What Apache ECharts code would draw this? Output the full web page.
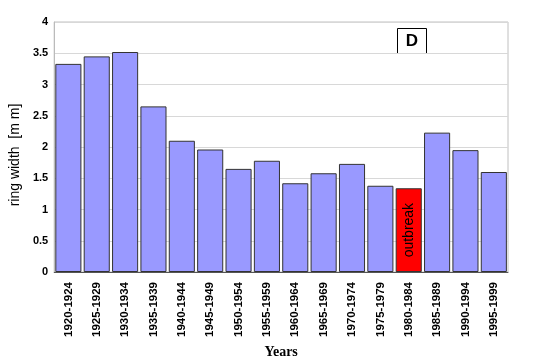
<!DOCTYPE html>
<html><head><meta charset="utf-8">
<script src="https://cdn.jsdelivr.net/npm/echarts@6/dist/echarts.min.js"></script>
<style>html,body{margin:0;padding:0;background:#fff}#c{width:540px;height:364px}</style>
</head><body><div id="c"></div>
<script>
const categories = ["1920-1924","1925-1929","1930-1934","1935-1939","1940-1944","1945-1949","1950-1954","1955-1959","1960-1964","1965-1969","1970-1974","1975-1979","1980-1984","1985-1989","1990-1994","1995-1999"];
const ringWidth = [3.33,3.45,3.52,2.65,2.10,1.96,1.65,1.78,1.42,1.58,1.73,1.38,1.34,2.23,1.95,1.60];
const outbreakCategory = "1980-1984";
const yTicks = [0,0.5,1,1.5,2,2.5,3,3.5,4];

const chart = echarts.init(document.getElementById('c'));
const data = ringWidth.map((v,i)=>{
  const isOut = categories[i]===outbreakCategory;
  return {
    value: v,
    itemStyle: {color: isOut ? '#ff0000' : '#9999ff'},
    label: isOut ? {show:true, position:'inside', rotate:90, formatter:'outbreak', color:'#000', fontFamily:'Liberation Sans, Arial', fontSize:14} : {show:false}
  };
});
chart.setOption({
  animation:false,
  grid:{left:54, top:22, right:32, bottom:92, show:true, borderColor:'#c0c0c0', borderWidth:1},
  xAxis:{
    type:'category', data:categories,
    name:'Years', nameLocation:'middle', nameGap:72,
    nameTextStyle:{fontFamily:'Liberation Serif, Times New Roman', fontWeight:'bold', fontSize:14, color:'#000'},
    axisTick:{show:false},
    axisLine:{lineStyle:{color:'#555', width:1}},
    axisLabel:{rotate:90, interval:0, margin:10, fontFamily:'Liberation Sans, Arial', fontWeight:'bold', fontSize:11.5, color:'#000'}
  },
  yAxis:{
    type:'value', min:0, max:4, interval:0.5,
    name:'ring width  [m m]', nameLocation:'middle', nameRotate:90, nameGap:24,
    nameTextStyle:{fontFamily:'Liberation Sans, Arial', fontSize:14, color:'#000', padding:[0,16,0,0]},
    axisLine:{show:true, lineStyle:{color:'#bbb'}},
    axisTick:{show:false},
    splitLine:{lineStyle:{color:'#d8d8d8'}},
    axisLabel:{margin:6, fontFamily:'Liberation Sans, Arial', fontWeight:'bold', fontSize:11, color:'#000',
      formatter:v=>String(v)}
  },
  series:[{
    type:'bar', data:data, barCategoryGap:'8%',
    itemStyle:{borderColor:'#333', borderWidth:1}
  }],
  graphic:[{
    type:'group', left:397, top:28,
    children:[
      {type:'rect', shape:{x:0,y:0,width:29,height:25}, style:{fill:'#fff', stroke:'#000', lineWidth:1}},
      {type:'text', style:{x:14.5, y:12.5, text:'D', align:'center', verticalAlign:'middle', font:'bold 17px Liberation Sans, Arial', fill:'#000'}}
    ]
  }]
});
</script></body></html>
